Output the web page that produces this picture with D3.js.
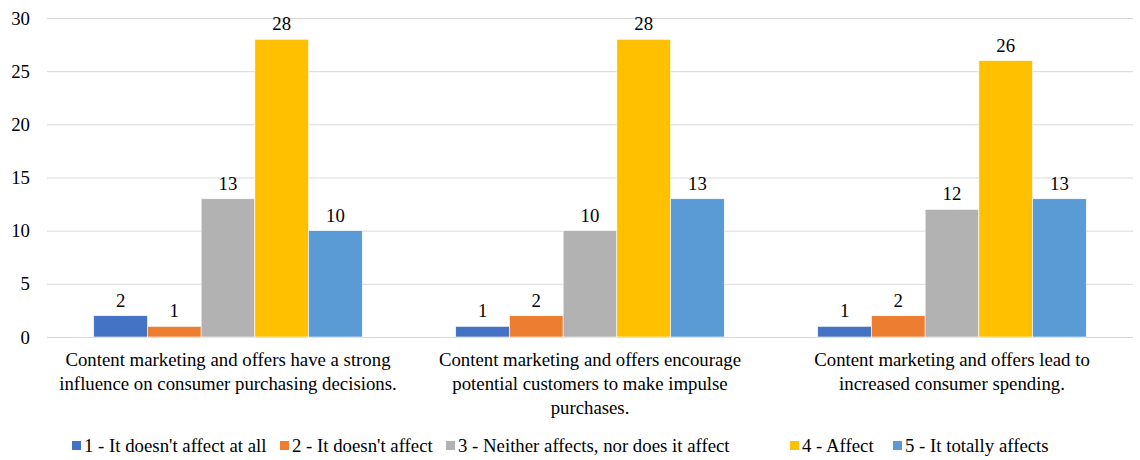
<!DOCTYPE html>
<html><head><meta charset="utf-8">
<script src="https://cdn.jsdelivr.net/npm/d3@7"></script>
<style>
body{margin:0;background:#fff}
svg{display:block}
svg text, svg tspan{font-family:"Liberation Serif","Times New Roman",Times,serif !important;}
</style>
</head><body><svg id="c" width="1140" height="460" style="font-family:'Liberation Serif','Times New Roman',serif"></svg>
<script>
const categories = [
  "Content marketing and offers have a strong\ninfluence on consumer purchasing decisions.",
  "Content marketing and offers encourage\npotential customers to make impulse\npurchases.",
  "Content marketing and offers lead to\nincreased consumer spending."
];
const seriesNames = ["1 - It doesn't affect at all","2 - It doesn't affect","3 - Neither affects, nor does it affect","4 - Affect","5 - It totally affects"];
const s1 = [2,1,1];
const s2 = [1,2,2];
const s3 = [13,10,12];
const s4 = [28,28,26];
const s5 = [10,13,13];
const yTicks = [0,5,10,15,20,25,30];
const colors = ["#4472C4","#ED7D31","#B2B2B2","#FFC000","#5B9BD5"];

const FONT = '"Liberation Serif", "Times New Roman", serif';
const FS = "18.8px";
const series = [s1,s2,s3,s4,s5];
const svg = d3.select("#c");
const m = {l:47, r:7, t:18, b:123};
const W = 1140, H = 460;
const x0 = d3.scaleBand().domain(categories).range([m.l, W-m.r]).paddingInner(0).paddingOuter(0);
const x1 = d3.scaleBand().domain(d3.range(5)).range([0, x0.bandwidth()]).paddingInner(0).paddingOuter(0.87);
const y = d3.scaleLinear().domain([0,30]).range([H-m.b, m.t]);

// gridlines
const yAxis = d3.axisLeft(y).tickValues(yTicks).tickSize(-(W-m.l-m.r)).tickPadding(17);
const ga = svg.append("g").attr("transform",`translate(${m.l},0)`).call(yAxis);
ga.attr("font-family", null);
ga.select(".domain").remove();
ga.selectAll(".tick line").attr("stroke","#d9d9d9").attr("stroke-width",1);
ga.selectAll(".tick text").style("font-family", FONT).style("font-size",FS).attr("fill","#000");

// bars
const groups = svg.append("g").selectAll("g").data(categories).join("g")
  .attr("transform",d=>`translate(${x0(d)},0)`);
groups.each(function(cat, ci){
  const g = d3.select(this);
  series.forEach((s, si)=>{
    g.append("rect")
      .attr("x", x1(si)).attr("width", x1.bandwidth())
      .attr("y", y(s[ci])).attr("height", y(0)-y(s[ci]))
      .attr("fill", colors[si]).attr("stroke","#fff").attr("stroke-width",0.6);
    g.append("text")
      .attr("x", x1(si)+x1.bandwidth()/2).attr("y", y(s[ci])-9)
      .attr("text-anchor","middle").style("font-family", FONT).style("font-size",FS).attr("fill","#000").text(s[ci]);
  });
});

// category labels
const xa = svg.append("g");
categories.forEach(c=>{
  const lines = c.split("\n");
  const t = xa.append("text").attr("text-anchor","middle").style("font-family", FONT).style("font-size",FS).attr("fill","#000");
  lines.forEach((ln,i)=>{
    t.append("tspan").attr("x", x0(c)+x0.bandwidth()/2).attr("y", 366 + i*24).text(ln);
  });
});

// legend
const legX = [72, 280, 446, 790, 893];
const lg = svg.append("g");
seriesNames.forEach((n,i)=>{
  lg.append("rect").attr("x",legX[i]).attr("y",441).attr("width",9).attr("height",9).attr("fill",colors[i]);
  lg.append("text").attr("x",legX[i]+12).attr("y",452).style("font-family", FONT).style("font-size",FS).attr("fill","#000").text(n);
});
</script></body></html>
